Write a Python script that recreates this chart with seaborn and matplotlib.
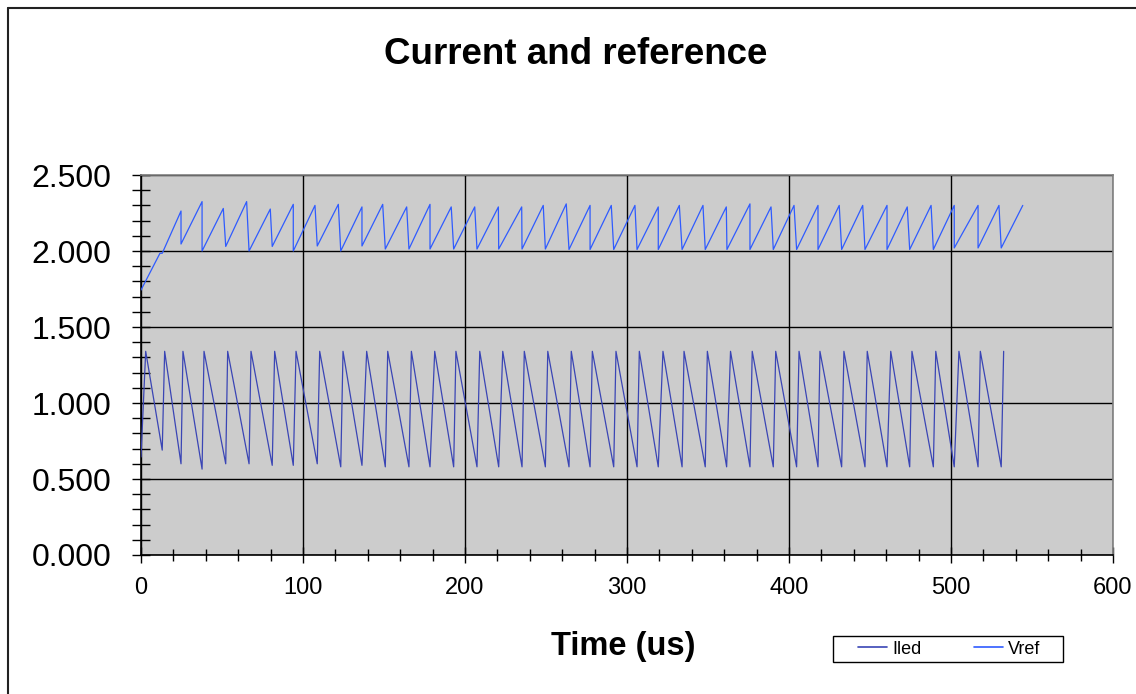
import pandas as pd
import matplotlib
matplotlib.use('Agg')
import matplotlib.pyplot as plt
from matplotlib.ticker import MultipleLocator, FormatStrFormatter
from matplotlib.lines import Line2D
from matplotlib.patches import Rectangle
import seaborn as sns

"Current and reference - sawtooth traces read off the scope export"

iled_time = [0, 2.9, 13.1, 14.6, 24.7, 25.9, 37.7, 38.9, 52.3, 53.5,
             66.7, 67.9, 81.0, 82.5, 94.0, 95.7, 108.8, 110.3, 123.3, 124.7,
             136.4, 139.3, 150.8, 152.3, 165.4, 166.9, 178.4, 181.3, 193.0, 194.4,
             207.4, 209.1, 220.8, 223.3, 235.2, 236.6, 249.6, 251.1, 264.2, 265.6,
             277.2, 278.6, 291.8, 293.2, 306.2, 307.6, 319.3, 322.2, 334.0, 335.2,
             348.3, 349.6, 361.5, 363.9, 375.9, 377.3, 390.3, 391.8, 404.7, 406.2,
             417.9, 419.1, 432.5, 433.9, 446.9, 448.3, 460.5, 462.8, 474.5, 475.9,
             489.1, 490.6, 502.0, 504.9, 516.7, 518.1, 531.0, 532.5]
iled_value = [0.645, 1.34, 0.69, 1.34, 0.60, 1.34, 0.565, 1.34, 0.60, 1.34,
              0.60, 1.34, 0.59, 1.34, 0.59, 1.34, 0.60, 1.34, 0.58, 1.34,
              0.59, 1.34, 0.58, 1.34, 0.58, 1.34, 0.58, 1.34, 0.58, 1.34,
              0.58, 1.34, 0.58, 1.34, 0.58, 1.34, 0.58, 1.34, 0.58, 1.34,
              0.58, 1.34, 0.58, 1.34, 0.58, 1.34, 0.58, 1.34, 0.58, 1.34,
              0.58, 1.34, 0.58, 1.34, 0.58, 1.34, 0.58, 1.34, 0.58, 1.34,
              0.58, 1.34, 0.58, 1.34, 0.58, 1.34, 0.58, 1.34, 0.58, 1.34,
              0.58, 1.34, 0.58, 1.34, 0.58, 1.34, 0.58, 1.34]

vref_time = [0, 11.7, 13.1, 24.7, 24.7, 37.7, 37.7, 50.8, 52.3, 65.2,
             66.7, 79.8, 81.0, 94.0, 94.0, 107.4, 108.8, 121.8, 123.3, 136.4,
             136.4, 149.2, 150.8, 164.0, 165.4, 178.4, 178.4, 191.5, 193.0, 206.0,
             207.4, 220.6, 220.8, 235.0, 235.2, 248.3, 249.6, 262.5, 264.2, 277.2,
             277.2, 290.3, 291.8, 304.9, 306.2, 319.3, 319.3, 332.3, 334.0, 346.9,
             348.3, 361.3, 361.7, 375.9, 375.9, 388.9, 390.3, 403.1, 404.7, 417.9,
             417.9, 431.0, 432.5, 445.5, 446.9, 460.5, 460.5, 473.0, 474.5, 487.7,
             489.1, 502.0, 502.0, 516.7, 516.7, 529.6, 531.0, 544.3]
vref_value = [1.743, 1.985, 1.985, 2.263, 2.046, 2.325, 2.0, 2.28, 2.03, 2.325,
              2.0, 2.276, 2.03, 2.307, 2.0, 2.30, 2.033, 2.307, 2.0, 2.29,
              2.033, 2.307, 2.013, 2.29, 2.013, 2.307, 2.013, 2.29, 2.013, 2.29,
              2.013, 2.29, 2.013, 2.29, 2.013, 2.30, 2.013, 2.31, 2.01, 2.30,
              2.01, 2.30, 2.01, 2.30, 2.01, 2.29, 2.01, 2.30, 2.01, 2.30,
              2.01, 2.29, 2.01, 2.31, 2.01, 2.29, 2.01, 2.30, 2.01, 2.30,
              2.01, 2.30, 2.01, 2.30, 2.01, 2.30, 2.01, 2.29, 2.01, 2.30,
              2.01, 2.30, 2.02, 2.30, 2.02, 2.30, 2.02, 2.30]

series_names = ['Iled', 'Vref']
series_colors = ['#3a45b5', '#2f5bff']

traces = pd.concat([
    pd.DataFrame({'Time': iled_time, 'Valor': iled_value, 'Sinal': 'Iled'}),
    pd.DataFrame({'Time': vref_time, 'Valor': vref_value, 'Sinal': 'Vref'}),
], ignore_index=True)

sns.set_style('white')
plt.rcParams['font.family'] = ['Liberation Sans', 'DejaVu Sans']
plt.rcParams['text.color'] = 'black'
plt.rcParams['xtick.color'] = 'black'
plt.rcParams['ytick.color'] = 'black'
plt.rcParams['axes.labelcolor'] = 'black'

fig = plt.figure(figsize=(11.36, 6.94), dpi=100)
ax = fig.add_axes([141 / 1136, 1 - 555 / 694, (1113 - 141) / 1136, (555 - 175) / 694])
ax.set_facecolor('#cccccc')

sns.lineplot(data=traces, x='Time', y='Valor', hue='Sinal', hue_order=series_names,
             palette=dict(zip(series_names, series_colors)), estimator=None, sort=False,
             linewidth=0.9, legend=False, ax=ax, zorder=3)

ax.set_xlim(0, 600)
ax.set_ylim(0, 2.5)
ax.xaxis.set_major_locator(MultipleLocator(100))
ax.xaxis.set_minor_locator(MultipleLocator(20))
ax.yaxis.set_major_locator(MultipleLocator(0.5))
ax.yaxis.set_minor_locator(MultipleLocator(0.1))
ax.yaxis.set_major_formatter(FormatStrFormatter('%.3f'))
ax.grid(True, which='major', color='black', linewidth=1.0, zorder=1)
ax.set_axisbelow(True)

ax.tick_params(axis='y', which='both', direction='inout', length=13, width=1,
               labelsize=23, pad=15, left=True, color='black', labelcolor='black')
ax.tick_params(axis='x', which='major', direction='inout', length=11, width=1,
               labelsize=17, pad=10, bottom=True, color='black', labelcolor='black')
ax.tick_params(axis='x', which='minor', direction='inout', length=9, width=1, bottom=True,
               color='black')

for side in ['left', 'bottom']:
    ax.spines[side].set_color('black')
    ax.spines[side].set_linewidth(1.2)
for side in ['top', 'right']:
    ax.spines[side].set_color('#808080')
    ax.spines[side].set_linewidth(1.2)

ax.set_xlabel('')
ax.set_ylabel('')

fig.text(576 / 1136, 1 - 54 / 694, 'Current and reference', ha='center', va='center',
         fontsize=26.5, fontweight='bold', color='black')
fig.text(623 / 1136, 1 - 647 / 694, 'Time (us)', ha='center', va='center',
         fontsize=23.5, fontweight='bold', color='black')

# caixa da legenda
fig.add_artist(Rectangle((833 / 1136, 1 - 662 / 694), 230 / 1136, 26 / 694,
                         transform=fig.transFigure, facecolor='white',
                         edgecolor='black', linewidth=1.0, zorder=4))

handles = [Line2D([], [], color=c, linewidth=1.2) for c in series_colors]
leg = fig.legend(handles, series_names, loc='center left',
                 bbox_to_anchor=(858 / 1136, 1 - 649 / 694),
                 ncol=2, frameon=False, fontsize=13, handlelength=1.6,
                 handletextpad=0.3, columnspacing=2.9, borderpad=0, borderaxespad=0)
leg.set_zorder(5)
for txt in leg.get_texts():
    txt.set_color('black')

# moldura da figura
fig.add_artist(Line2D([8 / 1136, 1], [1 - 8 / 694, 1 - 8 / 694], color='#222222', linewidth=1.5))
fig.add_artist(Line2D([8 / 1136, 8 / 1136], [0, 1 - 8 / 694], color='#222222', linewidth=1.5))

fig.savefig('out.png', dpi=100)
plt.close()
